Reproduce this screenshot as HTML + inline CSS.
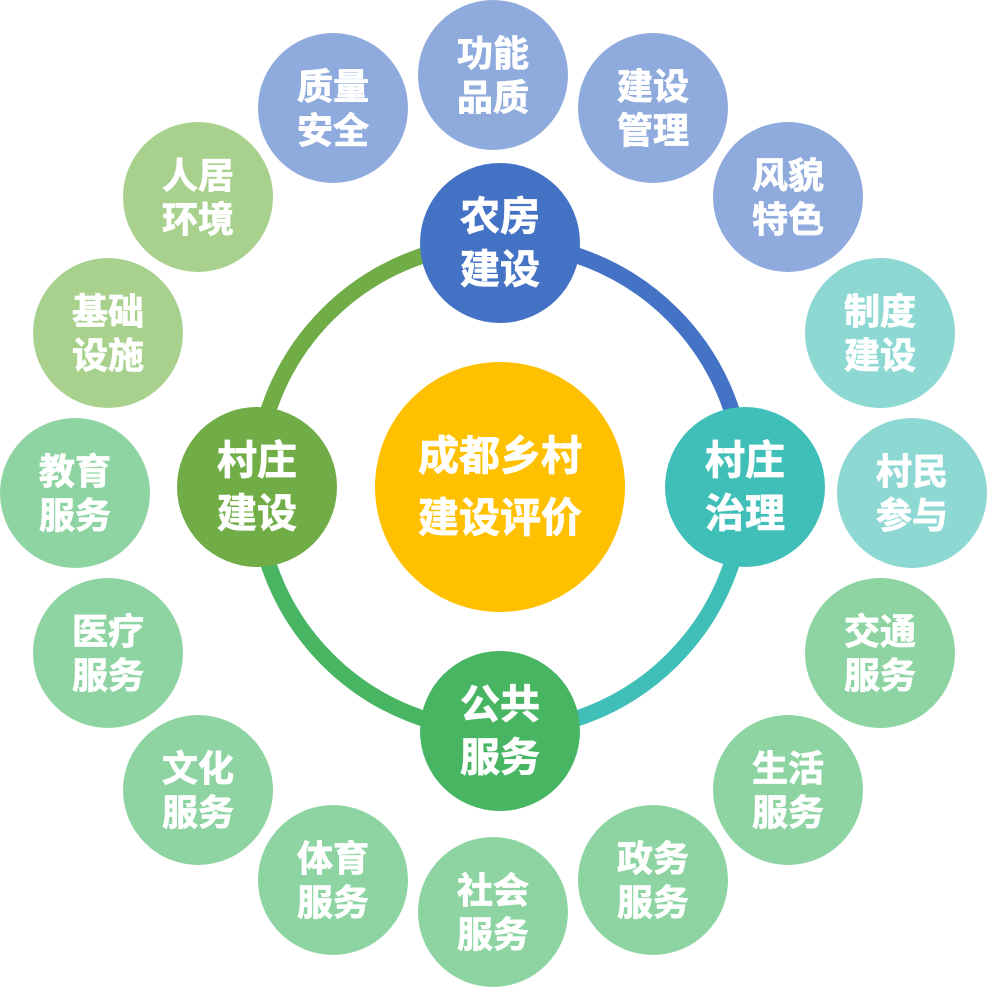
<!DOCTYPE html>
<html><head><meta charset="utf-8"><style>
html,body{margin:0;padding:0;background:#fff;}
svg{display:block;}
text{font-family:"Liberation Sans","Noto Sans CJK SC",sans-serif;font-weight:700;fill:#fff;text-anchor:middle;stroke:#fff;stroke-width:0.8px;}
</style></head><body>
<svg width="987" height="987" viewBox="0 0 987 987" xmlns="http://www.w3.org/2000/svg">
<g fill="none" stroke-width="16">
<path d="M500 243 A244 244 0 0 1 744 487" stroke="#4472C4"/>
<path d="M744 487 A244 244 0 0 1 500 731" stroke="#40BFB8"/>
<path d="M500 731 A244 244 0 0 1 256 487" stroke="#48B563"/>
<path d="M256 487 A244 244 0 0 1 500 243" stroke="#70AD47"/>
</g>
<g font-size="36">
<circle cx="493" cy="75" r="75" fill="#8FAADC"/><text x="493" y="66">功能</text><text x="493" y="110">品质</text>
<circle cx="653" cy="108" r="75" fill="#8FAADC"/><text x="653" y="99">建设</text><text x="653" y="143">管理</text>
<circle cx="788" cy="197" r="75" fill="#8FAADC"/><text x="788" y="188">风貌</text><text x="788" y="232">特色</text>
<circle cx="333" cy="108" r="75" fill="#8FAADC"/><text x="333" y="99">质量</text><text x="333" y="143">安全</text>
<circle cx="880" cy="333" r="75" fill="#8ED8D4"/><text x="880" y="324">制度</text><text x="880" y="368">建设</text>
<circle cx="912" cy="493" r="75" fill="#8ED8D4"/><text x="912" y="484">村民</text><text x="912" y="528">参与</text>
<circle cx="880" cy="653" r="75" fill="#8DD4A2"/><text x="880" y="644">交通</text><text x="880" y="688">服务</text>
<circle cx="788" cy="790" r="75" fill="#8DD4A2"/><text x="788" y="781">生活</text><text x="788" y="825">服务</text>
<circle cx="653" cy="880" r="75" fill="#8DD4A2"/><text x="653" y="871">政务</text><text x="653" y="915">服务</text>
<circle cx="493" cy="912" r="75" fill="#8DD4A2"/><text x="493" y="903">社会</text><text x="493" y="947">服务</text>
<circle cx="333" cy="880" r="75" fill="#8DD4A2"/><text x="333" y="871">体育</text><text x="333" y="915">服务</text>
<circle cx="198" cy="790" r="75" fill="#8DD4A2"/><text x="198" y="781">文化</text><text x="198" y="825">服务</text>
<circle cx="108" cy="653" r="75" fill="#8DD4A2"/><text x="108" y="644">医疗</text><text x="108" y="688">服务</text>
<circle cx="75" cy="493" r="75" fill="#8DD4A2"/><text x="75" y="484">教育</text><text x="75" y="528">服务</text>
<circle cx="108" cy="333" r="75" fill="#A9D18E"/><text x="108" y="324">基础</text><text x="108" y="368">设施</text>
<circle cx="198" cy="197" r="75" fill="#A9D18E"/><text x="198" y="188">人居</text><text x="198" y="232">环境</text>
</g>
<g font-size="40">
<circle cx="500" cy="243" r="80" fill="#4472C4"/><text x="500" y="230">农房</text><text x="500" y="283">建设</text>
<circle cx="745" cy="487" r="80" fill="#40BFB8"/><text x="745" y="474">村庄</text><text x="745" y="527">治理</text>
<circle cx="500" cy="731" r="80" fill="#48B563"/><text x="500" y="718">公共</text><text x="500" y="771">服务</text>
<circle cx="257" cy="487" r="80" fill="#70AD47"/><text x="257" y="474">村庄</text><text x="257" y="527">建设</text>
</g>
<circle cx="500" cy="487" r="125" fill="#FFC000"/>
<g font-size="41"><text x="500" y="470">成都乡村</text><text x="500" y="532">建设评价</text></g>
</svg>
</body></html>
